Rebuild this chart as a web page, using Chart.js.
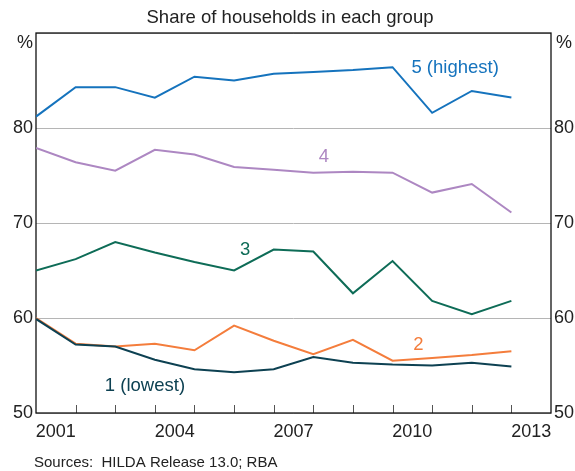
<!DOCTYPE html>
<html>
<head>
<meta charset="utf-8">
<script src="https://cdn.jsdelivr.net/npm/chart.js@4.4.1/dist/chart.umd.min.js"></script>
<style>
  html, body { margin: 0; padding: 0; background: #fff; }
  #wrap { width: 575px; height: 471px; position: relative; }
</style>
</head>
<body>
<div id="wrap"><canvas id="myChart"></canvas></div>
<script>
// Survey years (one point per year)
var years = [2001, 2002, 2003, 2004, 2005, 2006, 2007, 2008, 2009, 2010, 2011, 2012, 2013];

// Share of households in each income quintile (%)
var q1 = [59.9, 57.2, 57.0, 55.6, 54.6, 54.3, 54.6, 55.9, 55.3, 55.1, 55.0, 55.3, 54.9];
var q2 = [60.0, 57.3, 57.0, 57.3, 56.6, 59.2, 57.6, 56.2, 57.7, 55.5, 55.8, 56.1, 56.5];
var q3 = [65.0, 66.2, 68.0, 66.9, 65.9, 65.0, 67.2, 67.0, 62.6, 66.0, 61.8, 60.4, 61.8];
var q4 = [77.9, 76.4, 75.5, 77.7, 77.2, 75.9, 75.6, 75.3, 75.4, 75.3, 73.2, 74.1, 71.1];
var q5 = [81.2, 84.3, 84.3, 83.2, 85.4, 85.0, 85.7, 85.9, 86.1, 86.4, 81.6, 83.9, 83.2];

var yearLabels = [2001, 2004, 2007, 2010, 2013];
var yTicks = [50, 60, 70, 80, 90];

var seriesColors = ['#0d4152', '#f47d3c', '#0e6c57', '#ad87c2', '#1573bd'];
var seriesNames = ['1 (lowest)', '2', '3', '4', '5 (highest)'];
// label anchors in data units [year, value]
var labelPos = [[2003.75, 52.9], [2010.65, 57.2], [2006.28, 67.2], [2008.27, 77.0], [2011.58, 86.3]];

var FONT = '"Liberation Sans", Arial, sans-serif';
var TEXT = '#222';

function toPoints(vals) {
    return years.map(function (yr, i) { return { x: yr, y: vals[i] }; });
}

var decor = {
    id: 'decor',
    beforeDatasetsDraw: function (chart) {
        var ctx = chart.ctx, a = chart.chartArea, x = chart.scales.x;
        ctx.save();
        // year tick marks, pointing up inside the plot
        ctx.strokeStyle = '#555';
        ctx.lineWidth = 1;
        years.forEach(function (yr) {
            if (yr === years[0]) return;
            var px = Math.round(x.getPixelForValue(yr)) + 0.5;
            ctx.beginPath();
            ctx.moveTo(px, a.bottom);
            ctx.lineTo(px, a.bottom - 8);
            ctx.stroke();
        });
        // frame
        ctx.strokeStyle = '#111';
        ctx.lineWidth = 1.3;
        ctx.strokeRect(a.left, a.top, a.right - a.left, a.bottom - a.top);
        ctx.restore();
    },
    afterDraw: function (chart) {
        var ctx = chart.ctx, a = chart.chartArea, x = chart.scales.x, y = chart.scales.y;
        ctx.save();
        ctx.textBaseline = 'middle';
        // subtitle
        ctx.fillStyle = TEXT;
        ctx.font = '18.5px ' + FONT;
        ctx.textAlign = 'center';
        ctx.fillText('Share of households in each group', 290, 18);
        // unit labels
        ctx.font = '18px ' + FONT;
        ctx.textAlign = 'right';
        ctx.fillText('%', a.left - 3, a.top + 10);
        ctx.textAlign = 'left';
        ctx.fillText('%', a.right + 5, a.top + 10);
        // sources
        ctx.font = '15px ' + FONT;
        ctx.fillText('Sources:  HILDA Release 13.0; RBA', 34, 463);
        // series labels
        ctx.font = '18.5px ' + FONT;
        ctx.textAlign = 'center';
        seriesNames.forEach(function (name, i) {
            ctx.fillStyle = seriesColors[i];
            ctx.fillText(name, x.getPixelForValue(labelPos[i][0]), y.getPixelForValue(labelPos[i][1]));
        });
        ctx.restore();
    }
};

var quintiles = [q1, q2, q3, q4, q5];

var ctx = document.getElementById('myChart').getContext('2d');
var chart = new Chart(ctx, {
    type: 'line',
    data: {
        datasets: quintiles.map(function (vals, i) {
            return {
                label: seriesNames[i],
                data: toPoints(vals),
                borderColor: seriesColors[i],
                borderWidth: 2,
                pointRadius: 0,
                tension: 0,
                fill: false,
                yAxisID: 'y'
            };
        })
    },
    options: {
        responsive: true,
        maintainAspectRatio: false,
        animation: false,
        layout: { padding: { top: 33, left: 0, right: 0, bottom: 0 } },
        plugins: {
            legend: { display: false },
            title: { display: false },
            tooltip: { enabled: false }
        },
        scales: {
            x: {
                type: 'linear',
                min: 2001,
                max: 2014,
                grid: { display: false, drawTicks: false },
                border: { display: false },
                afterBuildTicks: function (scale) {
                    scale.ticks = yearLabels.map(function (yr) { return { value: yr + 0.5 }; });
                },
                afterFit: function (scale) { scale.height = 58; },
                ticks: {
                    autoSkip: false,
                    maxRotation: 0,
                    padding: 8,
                    color: TEXT,
                    font: { family: FONT, size: 18 },
                    callback: function (value) { return String(Math.floor(value)); }
                }
            },
            y: {
                position: 'left',
                min: 50,
                max: 90,
                grid: { color: '#b5b5b5', lineWidth: 1, drawTicks: false },
                border: { display: false },
                afterBuildTicks: function (scale) {
                    scale.ticks = yTicks.map(function (v) { return { value: v }; });
                },
                afterFit: function (scale) { scale.width = 36; },
                ticks: {
                    autoSkip: false,
                    padding: 3,
                    color: TEXT,
                    font: { family: FONT, size: 18 },
                    callback: function (value) { return value === 90 ? '' : value; }
                }
            },
            y2: {
                position: 'right',
                min: 50,
                max: 90,
                grid: { display: false, drawTicks: false },
                border: { display: false },
                afterBuildTicks: function (scale) {
                    scale.ticks = yTicks.map(function (v) { return { value: v }; });
                },
                afterFit: function (scale) { scale.width = 24; },
                ticks: {
                    autoSkip: false,
                    padding: 3,
                    color: TEXT,
                    font: { family: FONT, size: 18 },
                    callback: function (value) { return value === 90 ? '' : value; }
                }
            }
        }
    },
    plugins: [decor]
});
</script>
</body>
</html>
